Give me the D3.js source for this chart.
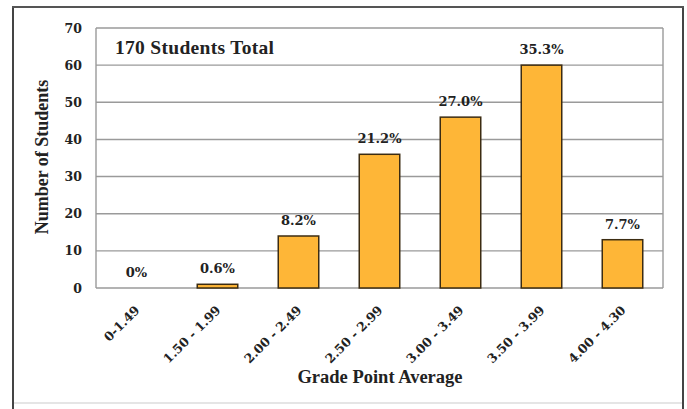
<!DOCTYPE html>
<html>
<head>
<meta charset="utf-8">
<script src="https://cdn.jsdelivr.net/npm/d3@7"></script>
<style>
  body { margin: 0; background: #fff; }
  text { font-weight: bold; fill: #222; }
  .num { font-family: "DejaVu Serif", serif; }
  .ttl { font-family: "Liberation Serif", "Times New Roman", serif; }
</style>
</head>
<body>
<div class="chart"></div>
<script>
const categories = ['0-1.49', '1.50 - 1.99', '2.00 - 2.49', '2.50 - 2.99', '3.00 - 3.49', '3.50 - 3.99', '4.00 - 4.30'];
const students = [0, 1, 14, 36, 46, 60, 13];
const percentLabels = ['0%', '0.6%', '8.2%', '21.2%', '27.0%', '35.3%', '7.7%'];
const yTicks = [0, 10, 20, 30, 40, 50, 60, 70];

const w = 687;
const h = 409;
const plotLeft = 96, plotRight = 663, plotTop = 28, plotBottom = 288;

const svg = d3.select('.chart')
    .append('svg')
    .attr('width', w)
    .attr('height', h);

// outer frame
svg.append('line').attr('x1', 13).attr('x2', 13).attr('y1', 6).attr('y2', 409)
    .attr('stroke', '#444').attr('stroke-width', 2);
svg.append('line').attr('x1', 683).attr('x2', 683).attr('y1', 6).attr('y2', 409)
    .attr('stroke', '#444').attr('stroke-width', 2);
svg.append('line').attr('x1', 12).attr('x2', 684).attr('y1', 7).attr('y2', 7)
    .attr('stroke', '#555').attr('stroke-width', 2);
svg.append('line').attr('x1', 14).attr('x2', 682).attr('y1', 403).attr('y2', 403)
    .attr('stroke', '#ddd').attr('stroke-width', 1.5);

const x = d3.scaleBand()
    .domain(categories)
    .range([plotLeft, plotRight])
    .paddingInner(0.5)
    .paddingOuter(0.25);

const y = d3.scaleLinear()
    .domain([0, 70])
    .range([plotBottom, plotTop]);

// gridlines
svg.append('g')
    .selectAll('line')
    .data(yTicks)
    .enter()
    .append('line')
    .attr('x1', plotLeft).attr('x2', plotRight)
    .attr('y1', d => y(d)).attr('y2', d => y(d))
    .attr('stroke', '#9a9a9a')
    .attr('stroke-width', 1.4);

// plot sides
svg.append('line').attr('x1', plotLeft).attr('x2', plotLeft).attr('y1', plotTop).attr('y2', plotBottom)
    .attr('stroke', '#9a9a9a').attr('stroke-width', 1.4);
svg.append('line').attr('x1', plotRight).attr('x2', plotRight).attr('y1', plotTop).attr('y2', plotBottom)
    .attr('stroke', '#9a9a9a').attr('stroke-width', 1.4);

// y axis
const yAxis = d3.axisLeft(y).tickValues(yTicks).tickSize(0).tickPadding(14);
svg.append('g')
    .attr('transform', 'translate(' + plotLeft + ',0)')
    .call(yAxis)
    .call(g => g.select('.domain').remove())
    .selectAll('text')
    .attr('class', 'num')
    .style('font-size', '12.5px')
    .attr('fill', '#222');

// bars
svg.selectAll('rect.bar')
    .data(students)
    .enter()
    .append('rect')
    .attr('class', 'bar')
    .attr('x', (d, i) => x(categories[i]))
    .attr('y', d => y(d))
    .attr('width', x.bandwidth())
    .attr('height', d => y(0) - y(d))
    .attr('fill', '#feb637')
    .attr('stroke', '#3c2c12')
    .attr('stroke-width', 1.5);

// percent labels
svg.selectAll('text.pct')
    .data(percentLabels)
    .enter()
    .append('text')
    .attr('class', 'pct num')
    .attr('x', (d, i) => x(categories[i]) + x.bandwidth() / 2)
    .attr('y', (d, i) => y(students[i]) - 11)
    .attr('text-anchor', 'middle')
    .style('font-size', '13px')
    .text(d => d);

// x axis labels
const xAxis = d3.axisBottom(x).tickSize(0).tickPadding(0);
svg.append('g')
    .attr('transform', 'translate(0,' + plotBottom + ')')
    .call(xAxis)
    .call(g => g.select('.domain').remove())
    .selectAll('text')
    .attr('class', 'num')
    .attr('text-anchor', 'end')
    .attr('dy', null)
    .attr('y', 0)
    .attr('transform', 'translate(4,23) rotate(-45)')
    .style('font-size', '12.5px')
    .attr('fill', '#222');

// titles
svg.append('text')
    .attr('class', 'ttl')
    .attr('x', 115).attr('y', 54)
    .style('font-size', '19.5px')
    .style('letter-spacing', '0.3px')
    .text('170 Students Total');

svg.append('text')
    .attr('class', 'ttl')
    .attr('transform', 'translate(48,157) rotate(-90)')
    .attr('text-anchor', 'middle')
    .style('font-size', '18px')
    .text('Number of Students');

svg.append('text')
    .attr('class', 'ttl')
    .attr('x', 380).attr('y', 383)
    .attr('text-anchor', 'middle')
    .style('font-size', '18.5px')
    .text('Grade Point Average');
</script>
</body>
</html>
